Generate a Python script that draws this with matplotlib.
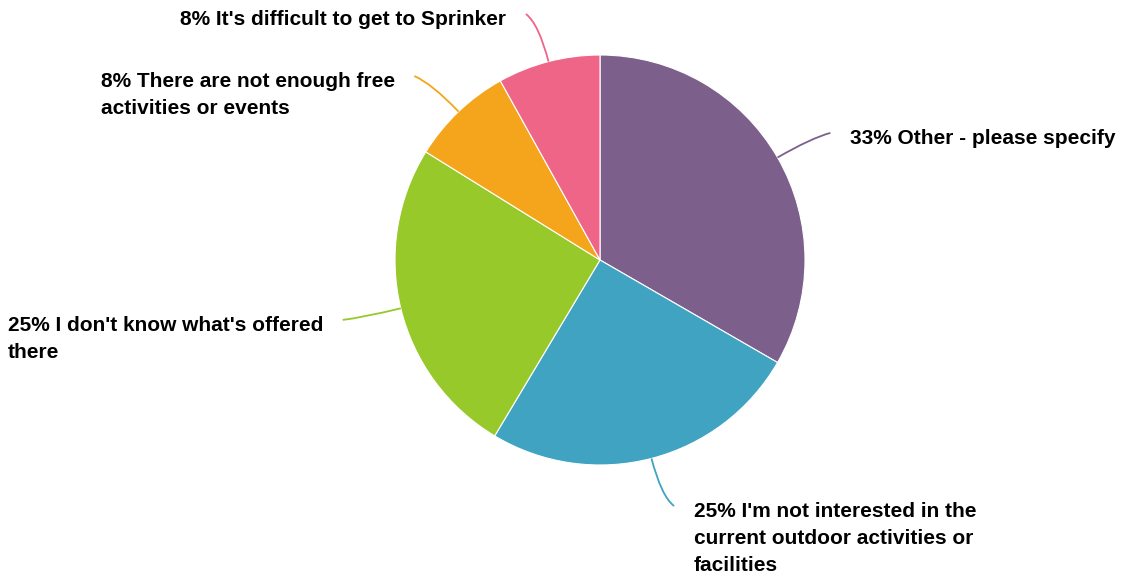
import numpy as np
import matplotlib
matplotlib.use("Agg")
import matplotlib.pyplot as plt
from matplotlib.path import Path
from matplotlib.patches import PathPatch

# survey answers, clockwise from 12 o'clock
labels = [
    "Other - please specify",
    "I'm not interested in the\ncurrent outdoor activities or\nfacilities",
    "I don't know what's offered\nthere",
    "There are not enough free\nactivities or events",
    "It's difficult to get to Sprinker",
]
shares = [33, 25, 25, 8, 8]
colors = ["#7d5f8c", "#40a3c2", "#97c92a", "#f5a51b", "#ef6588"]

plt.rcParams["font.family"] = ["Liberation Sans", "DejaVu Sans"]

fig = plt.figure(figsize=(11.25, 5.77), dpi=100)
ax = fig.add_axes([0, 0, 1, 1])

wedges, _ = ax.pie(shares, colors=colors, startangle=90, counterclock=False,
                   radius=1.0, wedgeprops=dict(edgecolor="white", linewidth=0.8))

for w, lab, val, col in zip(wedges, labels, shares, colors):
    mid = np.deg2rad((w.theta1 + w.theta2) / 2)
    c, s = np.cos(mid), np.sin(mid)
    side = 1 if c >= 0 else -1
    # curved connector from the rim out to the label
    p0 = (c, s)
    p1 = (1.19 * c, 1.19 * s)
    p2 = (1.24 * c + side * 0.05, 1.24 * s)
    path = Path([p0, p1, p2], [Path.MOVETO, Path.CURVE3, Path.CURVE3])
    ax.add_patch(PathPatch(path, fill=False, edgecolor=col, lw=1.3))
    ax.annotate(f"{val}% {lab}", xy=p2, xytext=(side * 14, 3), textcoords="offset points",
                ha="left" if side > 0 else "right", va="top",
                multialignment="left", fontsize=15, fontweight="bold",
                color="black", linespacing=1.55)

ax.set_xlim(-600 / 205, 525 / 205)
ax.set_ylim(-317 / 205, 260 / 205)
ax.set_aspect("equal")
ax.axis("off")

fig.savefig("out.png", dpi=100, facecolor="white")
